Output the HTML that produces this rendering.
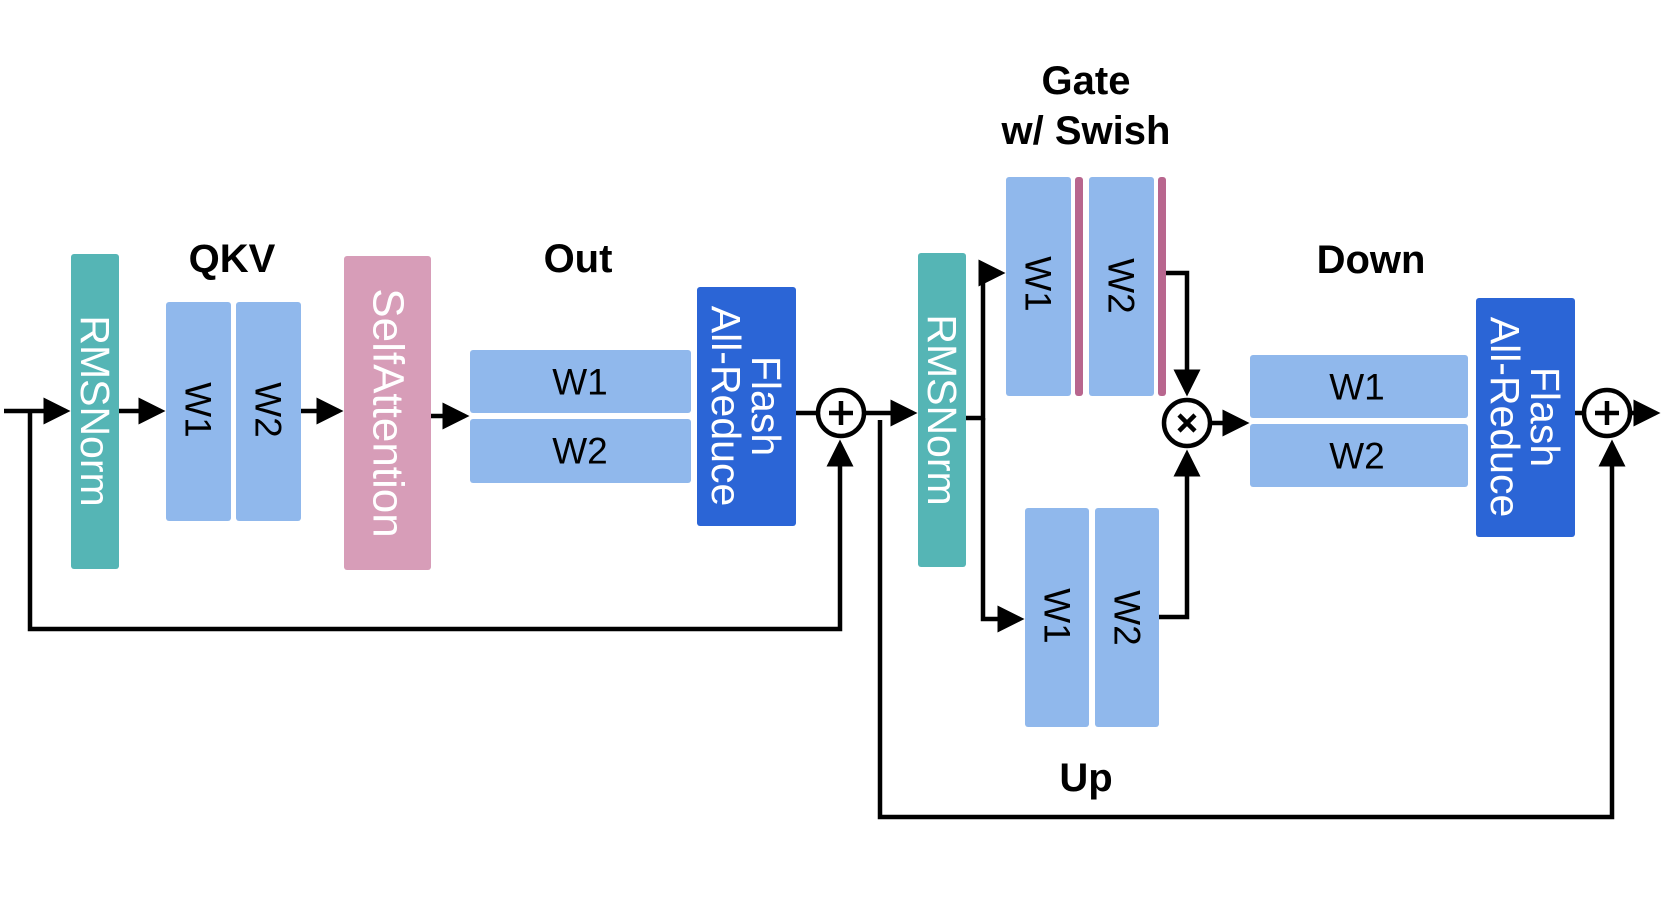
<!DOCTYPE html>
<html><head><meta charset="utf-8"><style>
html,body{margin:0;padding:0;background:#fff;}
svg{display:block;}
text{font-family:"Liberation Sans",Arial,sans-serif;}
.lbl{font-weight:bold;font-size:40px;fill:#000;text-anchor:middle;}
.w{font-size:37px;fill:#000;text-anchor:middle;dominant-baseline:central;}
.wt{font-size:41px;fill:#fff;text-anchor:middle;dominant-baseline:central;}
.ln{stroke:#000;stroke-width:4.5;fill:none;}
</style></head><body>
<svg width="1661" height="908" viewBox="0 0 1661 908" xmlns="http://www.w3.org/2000/svg">
<defs>
<marker id="a" markerWidth="6" markerHeight="6" refX="5" refY="3" orient="auto" markerUnits="strokeWidth">
<path d="M0,0 L6,3 L0,6 z" fill="#000"/></marker>
</defs>
<text class="lbl" x="232" y="272">QKV</text>
<text class="lbl" x="578" y="272">Out</text>
<text class="lbl" x="1086" y="94">Gate</text>
<text class="lbl" x="1086" y="144">w/ Swish</text>
<text class="lbl" x="1371" y="273">Down</text>
<text class="lbl" x="1086" y="791">Up</text>

<path class="ln" d="M4,411 H66" marker-end="url(#a)"/>
<path class="ln" d="M30,411 V629 H840 V444" marker-end="url(#a)"/>
<path class="ln" d="M119,411 H161" marker-end="url(#a)"/>
<path class="ln" d="M301,411 H339" marker-end="url(#a)"/>
<path class="ln" d="M431,416 H465" marker-end="url(#a)"/>
<path class="ln" d="M796,413 H816"/>
<path class="ln" d="M864,413 H913" marker-end="url(#a)"/>
<path class="ln" d="M880,420 V817 H1612 V444" marker-end="url(#a)"/>
<path class="ln" d="M966,418 H983 V273 H1001" marker-end="url(#a)"/>
<path class="ln" d="M983,418 V619 H1020" marker-end="url(#a)"/>
<path class="ln" d="M1165,273 H1187 V392" marker-end="url(#a)"/>
<path class="ln" d="M1159,617 H1187 V454" marker-end="url(#a)"/>
<path class="ln" d="M1211,423 H1245" marker-end="url(#a)"/>
<path class="ln" d="M1575,413 H1583"/>
<path class="ln" d="M1631,413 H1656" marker-end="url(#a)"/>

<rect x="71" y="254" width="48" height="315" rx="3" fill="#55b5b5"/>
<text class="wt" transform="translate(95,411) rotate(90)">RMSNorm</text>
<rect x="166" y="302" width="65" height="219" rx="3" fill="#90b8ec"/>
<rect x="236" y="302" width="65" height="219" rx="3" fill="#90b8ec"/>
<text class="w" transform="translate(198,410) rotate(90)">W1</text>
<text class="w" transform="translate(268,410) rotate(90)">W2</text>
<rect x="344" y="256" width="87" height="314" rx="3" fill="#d79db8"/>
<text class="wt" style="font-size:44px" transform="translate(388,413) rotate(90)">SelfAttention</text>
<rect x="470" y="350" width="221" height="63" rx="3" fill="#90b8ec"/>
<rect x="470" y="419" width="221" height="64" rx="3" fill="#90b8ec"/>
<text class="w" x="580" y="382">W1</text>
<text class="w" x="580" y="451">W2</text>
<rect x="697" y="287" width="99" height="239" rx="3" fill="#2b65d6"/>
<text class="wt" transform="translate(766,406) rotate(90)">Flash</text>
<text class="wt" transform="translate(726,406) rotate(90)">All-Reduce</text>

<circle cx="841" cy="413" r="23" fill="#fff" stroke="#000" stroke-width="4.5"/>
<path d="M829,413 H853 M841,401 V425" stroke="#000" stroke-width="4.5"/>

<rect x="918" y="253" width="48" height="314" rx="3" fill="#55b5b5"/>
<text class="wt" transform="translate(942,410) rotate(90)">RMSNorm</text>

<rect x="1006" y="177" width="65" height="219" rx="3" fill="#90b8ec"/>
<rect x="1075" y="177" width="8" height="219" rx="3" fill="#b8668e"/>
<rect x="1089" y="177" width="65" height="219" rx="3" fill="#90b8ec"/>
<rect x="1158" y="177" width="8" height="219" rx="3" fill="#b8668e"/>
<text class="w" transform="translate(1038,284) rotate(90)">W1</text>
<text class="w" transform="translate(1121,286) rotate(90)">W2</text>

<rect x="1025" y="508" width="64" height="219" rx="3" fill="#90b8ec"/>
<rect x="1095" y="508" width="64" height="219" rx="3" fill="#90b8ec"/>
<text class="w" transform="translate(1057,616) rotate(90)">W1</text>
<text class="w" transform="translate(1127,618) rotate(90)">W2</text>

<circle cx="1187" cy="423" r="23" fill="#fff" stroke="#000" stroke-width="4.5"/>
<path d="M1179,415 L1195,431 M1195,415 L1179,431" stroke="#000" stroke-width="4.5"/>

<rect x="1250" y="355" width="218" height="63" rx="3" fill="#90b8ec"/>
<rect x="1250" y="424" width="218" height="63" rx="3" fill="#90b8ec"/>
<text class="w" x="1357" y="387">W1</text>
<text class="w" x="1357" y="456">W2</text>
<rect x="1476" y="298" width="99" height="239" rx="3" fill="#2b65d6"/>
<text class="wt" transform="translate(1545,417) rotate(90)">Flash</text>
<text class="wt" transform="translate(1505,417) rotate(90)">All-Reduce</text>

<circle cx="1607" cy="413" r="23" fill="#fff" stroke="#000" stroke-width="4.5"/>
<path d="M1595,413 H1619 M1607,401 V425" stroke="#000" stroke-width="4.5"/>
</svg>
</body></html>
